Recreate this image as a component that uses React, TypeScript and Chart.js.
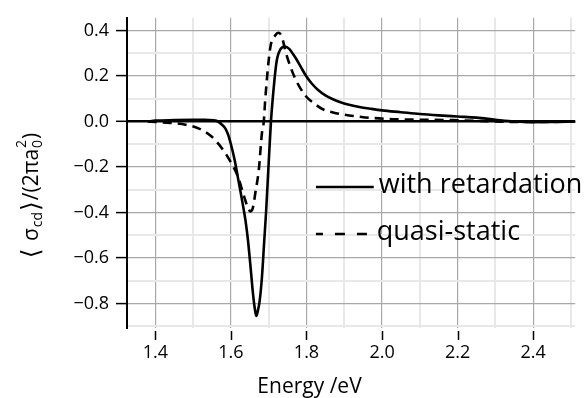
import React, { useEffect, useRef } from 'react';
import { Chart, registerables } from 'chart.js';

Chart.register(...registerables);

// ---- data ----
const retEnergy = [1.38, 1.40, 1.45, 1.50, 1.53, 1.555, 1.566, 1.575, 1.585, 1.592, 1.60, 1.61, 1.62, 1.631, 1.639, 1.645, 1.652, 1.658, 1.663, 1.667, 1.671, 1.676, 1.682, 1.688, 1.693, 1.700, 1.706, 1.711, 1.721, 1.732, 1.743, 1.755, 1.765, 1.773, 1.785, 1.799, 1.815, 1.83, 1.85, 1.87, 1.89, 1.91, 1.94, 1.97, 2.0, 2.05, 2.1, 2.15, 2.2, 2.25, 2.3, 2.35, 2.4, 2.45, 2.52];
const retValues = [0.000, 0.004, 0.006, 0.007, 0.007, 0.005, 0.0, -0.012, -0.03, -0.055, -0.10, -0.17, -0.26, -0.36, -0.44, -0.52, -0.64, -0.75, -0.82, -0.855, -0.835, -0.79, -0.687, -0.53, -0.40, -0.18, 0.0, 0.107, 0.265, 0.32, 0.33, 0.318, 0.295, 0.275, 0.24, 0.20, 0.165, 0.14, 0.115, 0.098, 0.085, 0.075, 0.064, 0.056, 0.049, 0.041, 0.033, 0.027, 0.022, 0.017, 0.008, 0.0, -0.003, -0.002, -0.001];

const qsEnergy = [1.38, 1.40, 1.44, 1.48, 1.514, 1.548, 1.579, 1.600, 1.618, 1.635, 1.645, 1.652, 1.658, 1.665, 1.674, 1.682, 1.687, 1.691, 1.704, 1.717, 1.727, 1.735, 1.747, 1.769, 1.799, 1.82, 1.842, 1.87, 1.946, 2.03, 2.1, 2.19, 2.25, 2.3, 2.35, 2.52];
const qsValues = [0.000, -0.002, -0.006, -0.014, -0.03, -0.065, -0.124, -0.18, -0.24, -0.33, -0.38, -0.395, -0.38, -0.31, -0.21, -0.052, 0.0, 0.1, 0.323, 0.378, 0.39, 0.37, 0.294, 0.193, 0.11, 0.08, 0.055, 0.04, 0.02, 0.01, 0.008, 0.006, 0.003, 0.0, -0.002, -0.001];

const seriesLabels = ['with retardation', 'quasi-static'];
const xTitle = 'Energy /eV';
const xRange = [1.325, 2.511];
const yRange = [-0.908, 0.456];

const FONT = "'Open Sans', 'DejaVu Sans', sans-serif";

const isMajor = (v: number) => Math.round(Math.abs(v) * 10) % 2 === 0;
const isZero = (v: number) => Math.abs(v) < 1e-9;
const fmt = (v: number) => {
  const s = Math.abs(v).toFixed(1);
  return v < -1e-9 ? '\u2212' + s : s;
};

const decorPlugin = {
  id: 'decor',
  afterDraw(chart: any) {
    const ctx = chart.ctx as CanvasRenderingContext2D;
    const area = chart.chartArea;
    const xs = chart.scales.x;
    ctx.save();
    // x tick marks (separated from plot area)
    ctx.strokeStyle = '#000';
    ctx.lineWidth = 1.5;
    xs.ticks.forEach((t: any) => {
      if (!isMajor(t.value)) return;
      const px = Math.round(xs.getPixelForValue(t.value)) + 0.5;
      ctx.beginPath();
      ctx.moveTo(px, area.bottom + 3);
      ctx.lineTo(px, area.bottom + 12);
      ctx.stroke();
    });

    // x title
    ctx.fillStyle = '#000';
    ctx.font = `21px ${FONT}`;
    ctx.textAlign = 'center';
    ctx.textBaseline = 'alphabetic';
    ctx.fillText(xTitle, xs.getPixelForValue(1.8) + 3, 393);

    // legend
    const lx0 = xs.getPixelForValue(1.825);
    const lx1 = xs.getPixelForValue(1.978);
    ctx.lineWidth = 2.6;
    ctx.setLineDash([]);
    ctx.beginPath();
    ctx.moveTo(lx0, 187);
    ctx.lineTo(lx1, 187);
    ctx.stroke();
    ctx.setLineDash([10, 12]);
    ctx.lineDashOffset = 3;
    ctx.beginPath();
    ctx.moveTo(lx0, 234);
    ctx.lineTo(lx1 - 4, 234);
    ctx.stroke();
    ctx.setLineDash([]);
    ctx.textAlign = 'left';
    ctx.textBaseline = 'middle';
    ctx.font = `27px ${FONT}`;
    ctx.fillText(seriesLabels[0], lx1 + 5, 185);
    ctx.fillText(seriesLabels[1], lx1 + 3, 232);

    // y title: <σcd>/(2πa0^2)
    ctx.translate(32, 195);
    ctx.rotate(-Math.PI / 2);
    const main = `21px ${FONT}`;
    const small = `14px ${FONT}`;
    const brk = `25px 'DejaVu Sans'`;
    const pieces: { t: string; f: string; dy: number; stack?: string }[] = [
      { t: '\u27E8', f: brk, dy: 0 },
      { t: ' ', f: main, dy: 0 },
      { t: '\u03C3', f: main, dy: 0 },
      { t: 'cd', f: small, dy: 6 },
      { t: '\u27E9', f: brk, dy: 0 },
      { t: '/(2\u03C0a', f: main, dy: 0 },
      { t: '0', f: small, dy: 6, stack: '2' },
      { t: ')', f: main, dy: 0 },
    ];
    let total = 0;
    const widths = pieces.map((p) => {
      ctx.font = p.f;
      const w = ctx.measureText(p.t).width + 1;
      total += w;
      return w;
    });
    let x = -total / 2;
    ctx.textAlign = 'left';
    ctx.textBaseline = 'middle';
    pieces.forEach((p, i) => {
      ctx.font = p.f;
      ctx.fillText(p.t, x, p.dy);
      if (p.stack) ctx.fillText(p.stack, x, -10);
      x += widths[i];
    });
    ctx.restore();
  },
};

export default function App() {
  const ref = useRef<HTMLCanvasElement | null>(null);
  useEffect(() => {
    if (!ref.current) return;
    const chart = new Chart(ref.current, {
      type: 'line',
      data: {
        datasets: [
          {
            label: seriesLabels[0],
            data: retEnergy.map((e, i) => ({ x: e, y: retValues[i] })),
            borderColor: '#000',
            borderWidth: 2.6,
            pointRadius: 0,
            cubicInterpolationMode: 'monotone',
            fill: false,
          },
          {
            label: seriesLabels[1],
            data: qsEnergy.map((e, i) => ({ x: e, y: qsValues[i] })),
            borderColor: '#000',
            borderWidth: 2.6,
            borderDash: [9, 6],
            pointRadius: 0,
            cubicInterpolationMode: 'monotone',
            fill: false,
          },
        ],
      },
      options: {
        animation: false,
        responsive: true,
        maintainAspectRatio: false,
        layout: { padding: { top: 13, right: 0, left: 0, bottom: 0 } },
        plugins: { legend: { display: false }, title: { display: false }, tooltip: { enabled: false } },
        scales: {
          x: {
            type: 'linear',
            min: xRange[0],
            max: xRange[1],
            ticks: {
              stepSize: 0.1,
              includeBounds: false,
              autoSkip: false,
              maxRotation: 0,
              color: '#000',
              font: { size: 18, family: FONT },
              padding: 14,
              callback: (v: any) => (isMajor(Number(v)) ? fmt(Number(v)) : ''),
            },
            grid: {
              drawTicks: false,
              color: (c: any) => (isMajor(c.tick.value) ? '#a8a8a8' : '#e8e8e8'),
              lineWidth: (c: any) => (isMajor(c.tick.value) ? 1.2 : 2),
            },
            border: { display: false },
            afterFit: (s: any) => {
              s.height = 70;
            },
          },
          y: {
            type: 'linear',
            min: yRange[0],
            max: yRange[1],
            ticks: {
              stepSize: 0.1,
              includeBounds: false,
              autoSkip: false,
              color: '#000',
              font: { size: 18, family: FONT },
              padding: 7,
              callback: (v: any) => (isMajor(Number(v)) ? fmt(Number(v)) : ''),
            },
            grid: {
              color: (c: any) =>
                isZero(c.tick.value) ? '#000' : isMajor(c.tick.value) ? '#a8a8a8' : '#e8e8e8',
              lineWidth: (c: any) => (isZero(c.tick.value) ? 2.6 : isMajor(c.tick.value) ? 1.2 : 2),
              tickColor: (c: any) => (isMajor(c.tick.value) ? '#000' : 'rgba(0,0,0,0)'),
              tickLength: 11,
              tickWidth: 1.5,
            },
            border: { display: true, color: '#000', width: 2 },
            afterFit: (s: any) => {
              s.width = 127;
            },
          },
        },
      },
      plugins: [decorPlugin],
    } as any);
    return () => chart.destroy();
  }, []);
  return (
    <div style={{ position: 'absolute', left: 0, top: 0, width: 585, height: 398 }}>
      <canvas ref={ref} />
    </div>
  );
}
